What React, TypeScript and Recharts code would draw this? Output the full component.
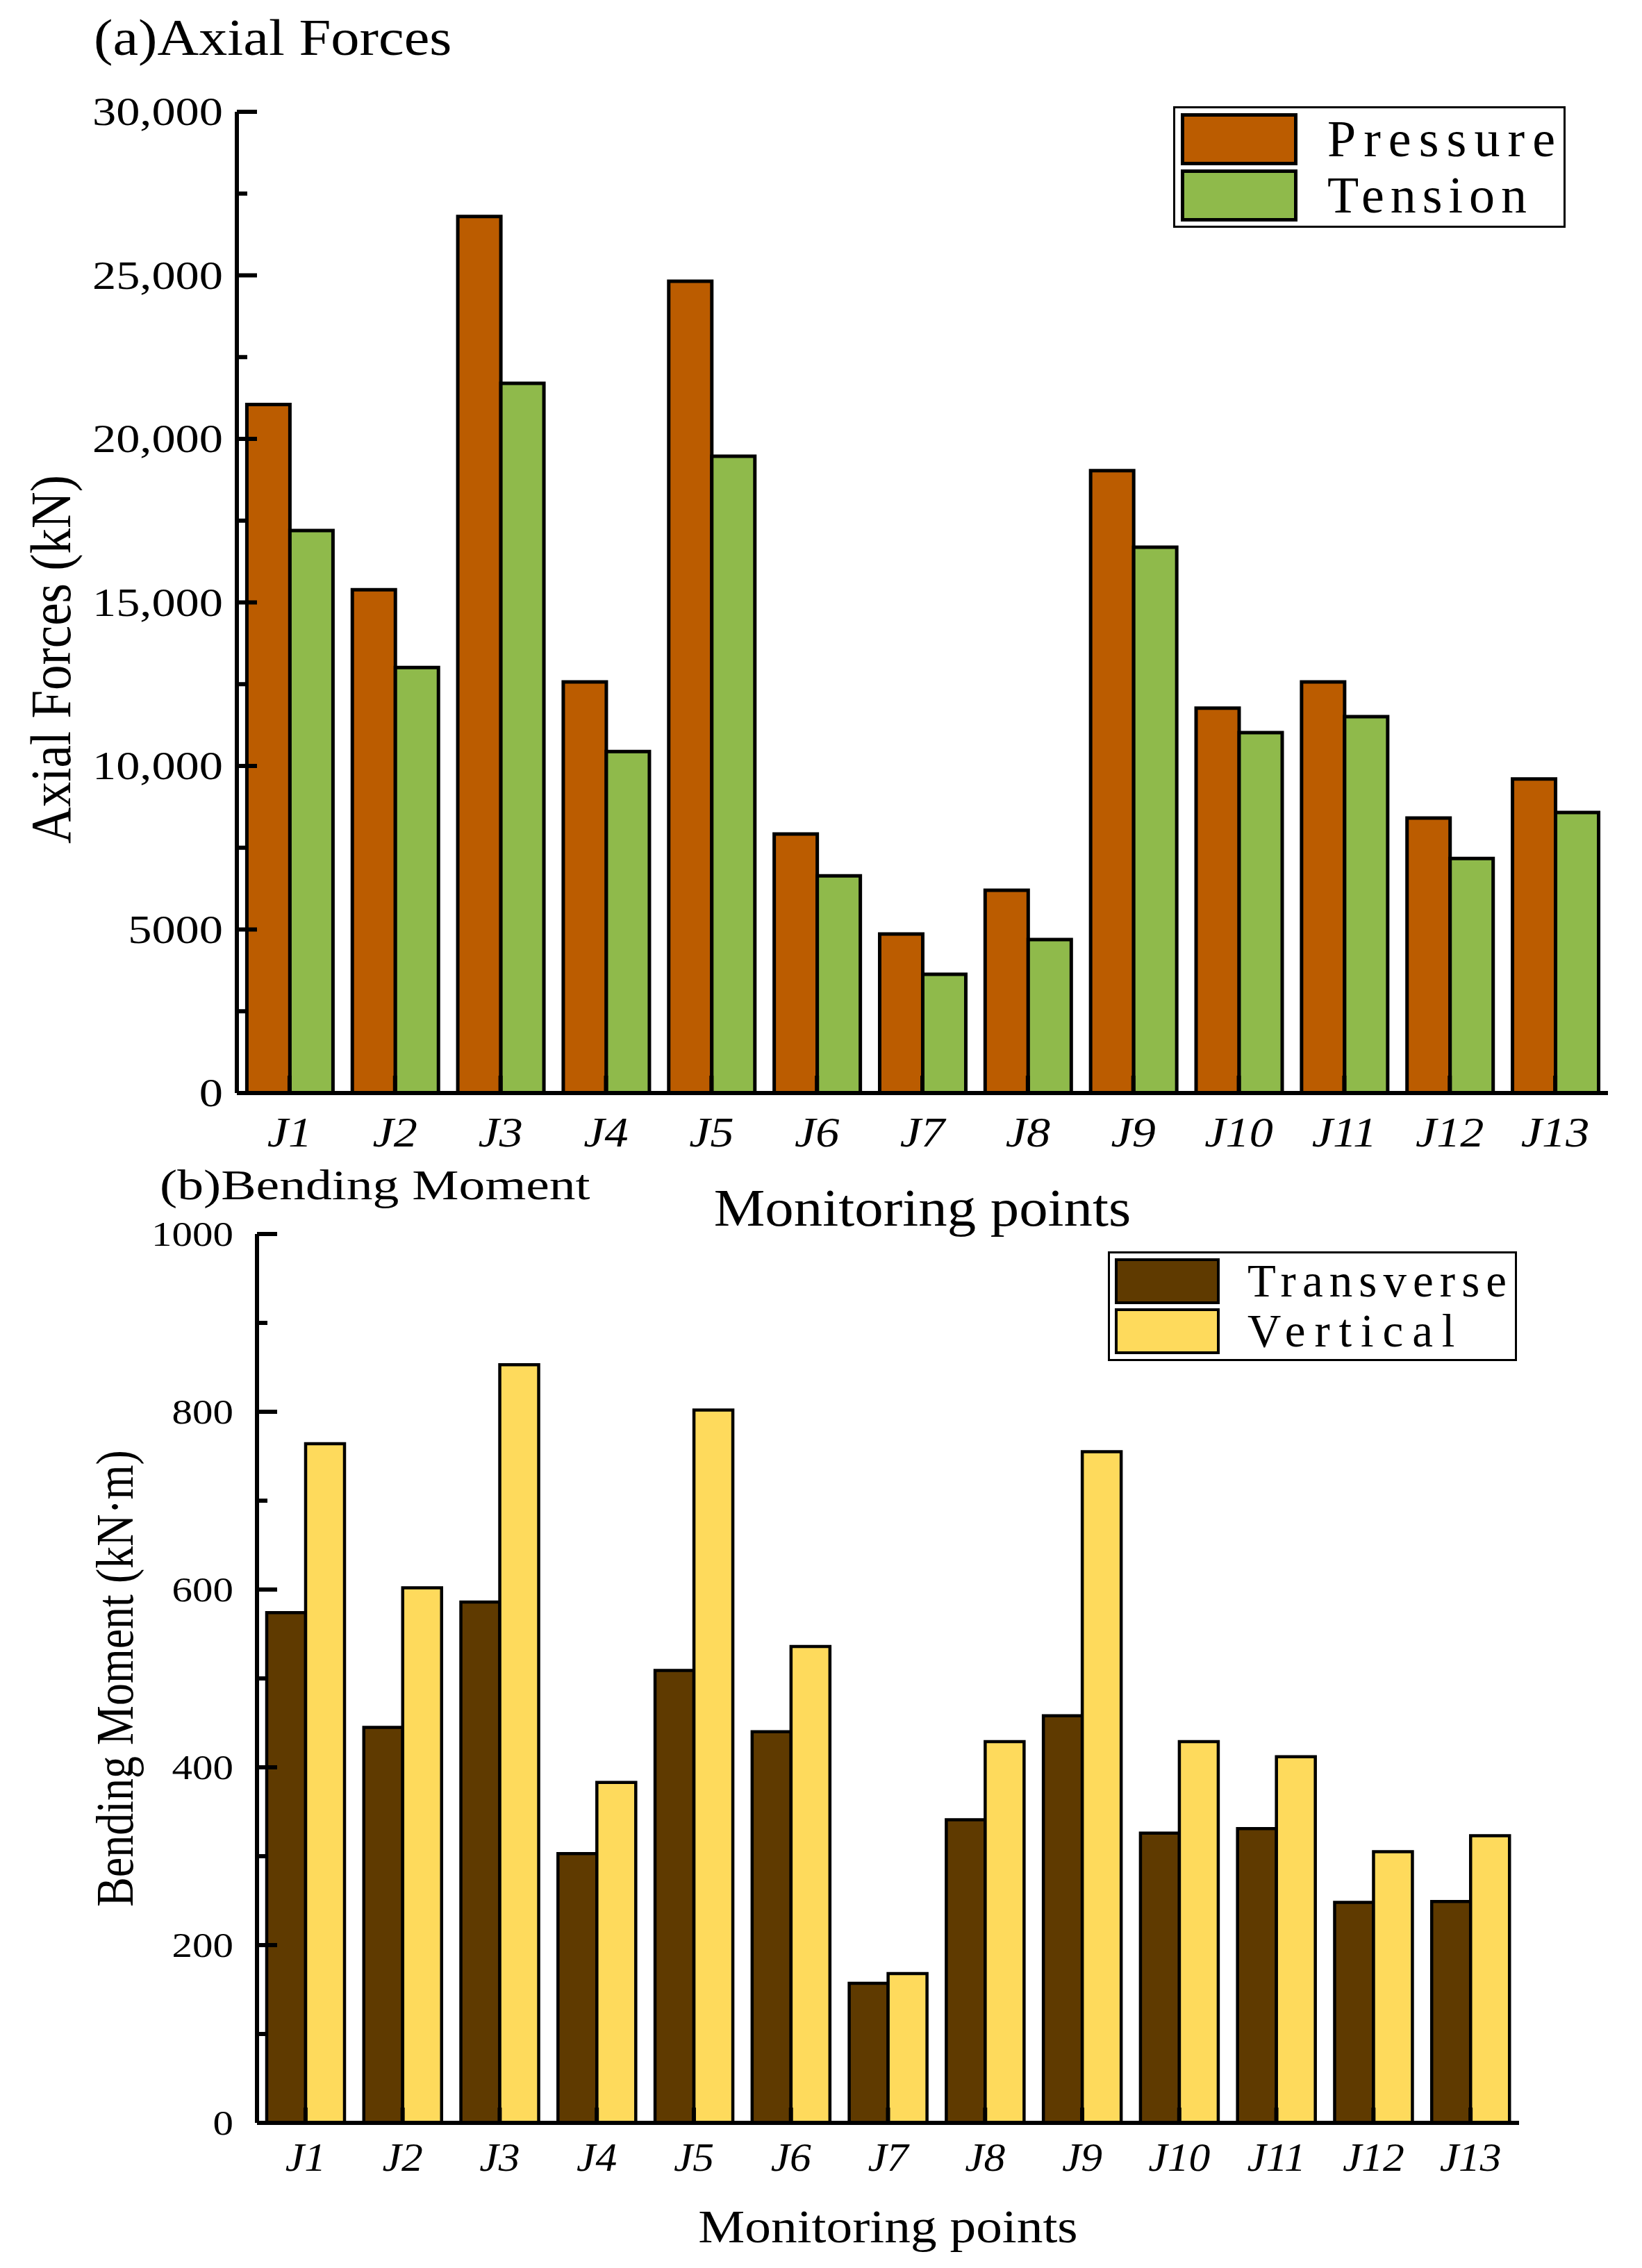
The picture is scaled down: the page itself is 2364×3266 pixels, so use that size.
import React from "react";
import { BarChart, Bar, XAxis, YAxis, Legend, Label } from "recharts";

const POINTS = ["J1", "J2", "J3", "J4", "J5", "J6", "J7", "J8", "J9", "J10", "J11", "J12", "J13"];

const PRESSURE = [21050, 15390, 26800, 12570, 24820, 7920, 4860, 6200, 19030, 11770, 12570, 8410, 9600];
const TENSION = [17200, 13010, 21700, 10440, 19470, 6640, 3630, 4690, 16690, 11020, 11510, 7170, 8580];

const TRANSVERSE = [574, 445, 586, 303, 509, 440, 157, 341, 458, 326, 331, 248, 249];
const VERTICAL = [764, 602, 853, 383, 802, 536, 168, 429, 755, 429, 412, 305, 323];

const AXIAL_TICKS = [0, 2500, 5000, 7500, 10000, 12500, 15000, 17500, 20000, 22500, 25000, 27500, 30000];
const MOMENT_TICKS = [0, 100, 200, 300, 400, 500, 600, 700, 800, 900, 1000];

const axialData = POINTS.map((name, i) => ({ name, Pressure: PRESSURE[i], Tension: TENSION[i] }));
const momentData = POINTS.map((name, i) => ({ name, Transverse: TRANSVERSE[i], Vertical: VERTICAL[i] }));

const SERIF = '"Liberation Serif", "Times New Roman", serif';

function SText({ x, y, sx = 1, sy = 1, rotate = 0, size, anchor = "start", italic = false, baseline, children }: any) {
  return (
    <text
      transform={`translate(${x},${y}) rotate(${rotate}) scale(${sx},${sy})`}
      x={0}
      y={0}
      fontFamily={SERIF}
      fontSize={size}
      fontStyle={italic ? "italic" : "normal"}
      textAnchor={anchor}
      dominantBaseline={baseline}
      fill="#000"
    >
      {children}
    </text>
  );
}

const fmtAxial = (v: number) => (v >= 10000 ? v.toLocaleString("en-US") : String(v));

function makeYTick(major: number, fmt: (v: number) => string, size: number, sx: number, gap: number) {
  return (props: any) => {
    const { x, y, payload } = props;
    const isMajor = payload.value % major === 0;
    return (
      <g>
        <line x1={x} x2={x + (isMajor ? 29 : 15)} y1={y} y2={y} stroke="#000" strokeWidth={6} />
        {isMajor && (
          <SText x={x - gap} y={y} sx={sx} size={size} anchor="end" baseline="central">
            {fmt(payload.value)}
          </SText>
        )}
      </g>
    );
  };
}

function makeXTick(size: number, dy: number, tickLen: number) {
  return (props: any) => {
    const { x, y, payload } = props;
    return (
      <g>
        <line x1={x} x2={x} y1={y} y2={y - tickLen} stroke="#000" strokeWidth={6} />
        <SText x={x} y={y + dy} sx={1.1} size={size} anchor="middle" italic baseline="central">
          {payload.value}
        </SText>
      </g>
    );
  };
}

// legend text is spread like a half-width monospace font
function makeLegend(cfg: any) {
  return (props: any) => {
    const { payload } = props;
    return (
      <svg width={cfg.w} height={cfg.h} style={{ display: "block" }}>
        <rect x={1.5} y={1.5} width={cfg.w - 3} height={cfg.h - 3} fill="#fff" stroke="#000" strokeWidth={3} />
        {(payload || []).map((entry: any, i: number) => (
          <g key={entry.value}>
            <rect
              x={cfg.sx}
              y={cfg.sy + i * cfg.step}
              width={cfg.sw}
              height={cfg.sh}
              fill={entry.color}
              stroke="#000"
              strokeWidth={cfg.sStroke}
            />
            <text
              x={cfg.tx}
              y={cfg.ty + i * cfg.step}
              fontFamily={SERIF}
              fontSize={cfg.font}
              textLength={String(entry.value).length * cfg.adv}
              lengthAdjust="spacing"
              fill="#000"
            >
              {entry.value}
            </text>
          </g>
        ))}
      </svg>
    );
  };
}

const TopLegend = makeLegend({ w: 565, h: 175, sx: 13.5, sy: 12.5, sw: 163, sh: 70, step: 81, sStroke: 5, tx: 222, ty: 72, font: 74, adv: 41 });
const BottomLegend = makeLegend({ w: 589, h: 158, sx: 12, sy: 12, sw: 147, sh: 62, step: 72, sStroke: 4, tx: 201, ty: 65, font: 67, adv: 37.3 });

export default function App() {
  return (
    <div style={{ position: "absolute", left: 0, top: 0, width: 2364, height: 3266, background: "#fff" }}>
      {/* (a) axial forces */}
      <div style={{ position: "absolute", left: 0, top: 0 }}>
        <BarChart
          width={2364}
          height={1800}
          data={axialData}
          margin={{ top: 161, right: 49, left: 141, bottom: 76 }}
          barCategoryGap={14.4}
          barGap={0}
        >
          <XAxis
            dataKey="name"
            height={150}
            interval={0}
            tickSize={0}
            tickMargin={0}
            tickLine={false}
            axisLine={{ stroke: "#000", strokeWidth: 6 }}
            tick={makeXTick(62, 56, 25)}
          >
            <Label
              content={(p: any) => {
                const vb = p.viewBox;
                return (
                  <SText x={vb.x + vb.width / 2} y={1765} sx={1.09} size={76} anchor="middle">
                    Monitoring points
                  </SText>
                );
              }}
            />
          </XAxis>
          <YAxis
            width={200}
            domain={[0, 30000]}
            ticks={AXIAL_TICKS}
            interval={0}
            tickSize={0}
            tickMargin={0}
            tickLine={false}
            axisLine={{ stroke: "#000", strokeWidth: 6 }}
            tick={makeYTick(5000, fmtAxial, 57, 1.2, 20)}
          >
            <Label
              content={(p: any) => {
                const vb = p.viewBox;
                return (
                  <SText x={vb.x + vb.width - 268} y={vb.y + vb.height / 2 + 82} rotate={-90} sy={1.13} size={73} anchor="middle" baseline="central">
                    Axial Forces (kN)
                  </SText>
                );
              }}
            />
          </YAxis>
          <Legend
            layout="horizontal"
            align="center"
            verticalAlign="middle"
            wrapperStyle={{ left: 1689, top: 153, width: 565, height: 175 }}
            content={TopLegend}
          />
          <Bar dataKey="Pressure" fill="#BB5C00" stroke="#000" strokeWidth={5} isAnimationActive={false} />
          <Bar dataKey="Tension" fill="#8FBA4B" stroke="#000" strokeWidth={5} isAnimationActive={false} />
        </BarChart>
      </div>

      {/* (b) bending moment */}
      <div style={{ position: "absolute", left: 0, top: 0 }}>
        <BarChart
          width={2364}
          height={3266}
          data={momentData}
          margin={{ top: 1777, right: 177, left: 170, bottom: 59 }}
          barCategoryGap={14}
          barGap={0}
        >
          <XAxis
            dataKey="name"
            height={150}
            interval={0}
            tickSize={0}
            tickMargin={0}
            tickLine={false}
            axisLine={{ stroke: "#000", strokeWidth: 6 }}
            tick={makeXTick(56, 50, 22)}
          >
            <Label
              content={(p: any) => {
                const vb = p.viewBox;
                return (
                  <SText x={vb.x + vb.width / 2} y={3229} sx={1.125} size={67} anchor="middle">
                    Monitoring points
                  </SText>
                );
              }}
            />
          </XAxis>
          <YAxis
            width={200}
            domain={[0, 1000]}
            ticks={MOMENT_TICKS}
            interval={0}
            tickSize={0}
            tickMargin={0}
            tickLine={false}
            axisLine={{ stroke: "#000", strokeWidth: 6 }}
            tick={makeYTick(200, (v) => String(v), 50, 1.18, 34)}
          >
            <Label
              content={(p: any) => {
                const vb = p.viewBox;
                return (
                  <SText x={vb.x + vb.width - 205} y={vb.y + vb.height / 2} rotate={-90} sy={1.2} size={64} anchor="middle" baseline="central">
                    Bending Moment (kN·m)
                  </SText>
                );
              }}
            />
          </YAxis>
          <Legend
            layout="horizontal"
            align="center"
            verticalAlign="middle"
            wrapperStyle={{ left: 1595, top: 1802, width: 589, height: 158 }}
            content={BottomLegend}
          />
          <Bar dataKey="Transverse" fill="#5F3A00" stroke="#000" strokeWidth={4.5} isAnimationActive={false} />
          <Bar dataKey="Vertical" fill="#FEDA5C" stroke="#000" strokeWidth={4.5} isAnimationActive={false} />
        </BarChart>
      </div>

      {/* panel titles */}
      <svg width={2364} height={3266} style={{ position: "absolute", left: 0, top: 0, pointerEvents: "none" }}>
        <SText x={135} y={79} sx={1.1} size={75}>
          (a)Axial Forces
        </SText>
        <SText x={230} y={1727} sx={1.22} size={62}>
          (b)Bending Moment
        </SText>
      </svg>
    </div>
  );
}
